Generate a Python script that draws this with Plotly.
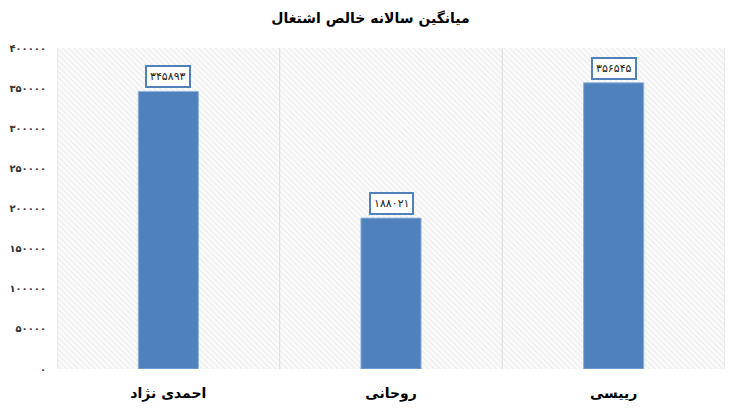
import plotly.graph_objects as go

# داده‌ها
categories = ["احمدی نژاد", "روحانی", "رییسی"]
values = [345893, 188021, 356545]
y_ticks = [0, 50000, 100000, 150000, 200000, 250000, 300000, 350000, 400000]
y_max = 400000
chart_title = "میانگین سالانه خالص اشتغال"

FA_DIGITS = str.maketrans("0123456789", "۰۱۲۳۴۵۶۷۸۹")


def to_fa(n):
    return str(n).translate(FA_DIGITS)


fig = go.Figure()

# پس‌زمینه هاشور خورده
fig.add_trace(go.Bar(
    x=categories, y=[y_max] * len(categories), width=1,
    marker=dict(color="white", line=dict(width=0),
                pattern=dict(shape="\\", fgcolor="#d6d6d6", bgcolor="#fbfbfb",
                             size=4, solidity=0.25)),
    hoverinfo="skip", showlegend=False,
))

# ستون‌ها
fig.add_trace(go.Bar(
    x=categories, y=values, width=0.27,
    marker=dict(color="#4F81BD", line=dict(color="#8fb0da", width=1)),
    showlegend=False,
))

# برچسب مقادیر
for c, v in zip(categories, values):
    fig.add_annotation(
        x=c, y=v, text=to_fa(v), showarrow=False, yanchor="bottom", yshift=3,
        font=dict(family="DejaVu Sans", size=11, color="#222"),
        bgcolor="white", bordercolor="#4F81BD", borderwidth=2, borderpad=3,
    )

# صفحه با حاشیه ۸ پیکسلی body رسم می‌شود
fig.update_layout(
    width=725, height=406,
    margin=dict(l=49, r=8, t=40, b=45),
    barmode="overlay",
    paper_bgcolor="white", plot_bgcolor="white",
    title=dict(text="<b>" + chart_title + "</b>", x=0.5, xanchor="center",
               y=0.975, yanchor="middle",
               font=dict(family="DejaVu Sans", size=14, color="black")),
    font=dict(family="DejaVu Sans"),
)

fig.update_xaxes(
    showgrid=False, tickfont=dict(size=14, color="black", family="DejaVu Sans"),
    ticktext=["<b>" + c + "</b>" for c in categories], tickvals=categories,
    ticks="", ticklabelstandoff=14, range=[-0.5, 2.5], automargin=False,
)
for i in range(len(categories) + 1):
    fig.add_vline(x=i - 0.5, line=dict(color="#dcdcdc", width=1), layer="above")

fig.update_yaxes(
    range=[0, y_max], tickvals=y_ticks, ticktext=["<b>" + to_fa(t) + "</b>" for t in y_ticks],
    showgrid=True, gridcolor="#dcdcdc", gridwidth=1, zeroline=False,
    tickfont=dict(size=10, color="#333", family="DejaVu Sans"), ticklabelstandoff=10,
    layer="below traces", automargin=False,
)

fig.write_html("out.html")
